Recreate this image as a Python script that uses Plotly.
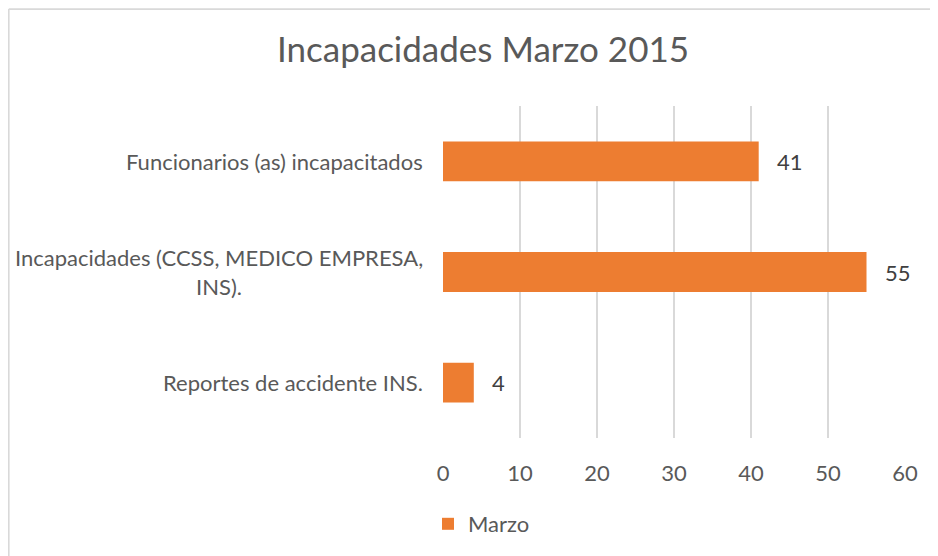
import plotly.graph_objects as go

categories = [
    "Funcionarios (as) incapacitados",
    "Incapacidades (CCSS, MEDICO EMPRESA,<br>INS).",
    "Reportes de accidente INS.",
]
values_marzo = [41, 55, 4]
x_ticks = [0, 10, 20, 30, 40, 50, 60]
series_name = "Marzo"
title_text = "Incapacidades Marzo 2015"

# page has an 8px body margin; figure sized to fit inside 938x556
W, H = 930, 548
ML, MR, MT, MB = 435, 33, 98, 117
pw, ph = W - ML - MR, H - MT - MB

FONT = "Lato"
GREY = "#595959"
ORANGE = "#ED7D31"

fig = go.Figure()
fig.add_trace(go.Bar(
    x=values_marzo, y=categories, orientation="h",
    name=series_name, marker=dict(color=ORANGE, line=dict(width=0)),
    width=0.36, showlegend=True,
))

annotations = []
for c, v in zip(categories, values_marzo):
    annotations.append(dict(x=v, y=c, xref="x", yref="y", text=str(v),
                            showarrow=False, xanchor="left", xshift=16,
                            font=dict(family=FONT, size=22, color="#404040")))
    annotations.append(dict(x=0, y=c, xref="paper", yref="y", text=c,
                            showarrow=False, xanchor="right", align="center",
                            xshift=-18, font=dict(family=FONT, size=22, color=GREY)))

# chart-area border (top and left edges visible)
bx = (0.8 - ML) / pw
by = (H - MB - 0.8) / ph
shapes = [
    dict(type="line", xref="paper", yref="paper", x0=bx, x1=(W - ML) / pw + 0.1, y0=by, y1=by,
         line=dict(color="#D9D9D9", width=1.6)),
    dict(type="line", xref="paper", yref="paper", x0=bx, x1=bx, y0=by, y1=-(MB + 10) / ph,
         line=dict(color="#D9D9D9", width=1.6)),
]

fig.update_layout(
    width=W, height=H,
    margin=dict(l=ML, r=MR, t=MT, b=MB),
    paper_bgcolor="white", plot_bgcolor="white",
    title=dict(text=title_text, x=(483 - 8) / W, xanchor="center", y=1 - 42 / H, yanchor="middle",
               font=dict(family=FONT, size=35, color=GREY)),
    font=dict(family=FONT, color=GREY),
    xaxis=dict(range=[0, 60], tickvals=x_ticks, showgrid=True, gridcolor="#D9D9D9", gridwidth=1.5,
               zeroline=False, showline=False, ticks="", ticklabelstandoff=20,
               tickfont=dict(family=FONT, size=22, color=GREY)),
    yaxis=dict(categoryorder="array", categoryarray=categories[::-1], showticklabels=False,
               showgrid=False, zeroline=False, showline=False, ticks=""),
    legend=dict(orientation="h", x=(420 - ML) / pw, xanchor="left", y=-(516 - (H - MB)) / ph,
                yanchor="middle", font=dict(family=FONT, size=22, color=GREY),
                bgcolor="rgba(0,0,0,0)"),
    annotations=annotations,
    shapes=shapes,
    bargap=0.64,
)

fig.write_html("out.html")
